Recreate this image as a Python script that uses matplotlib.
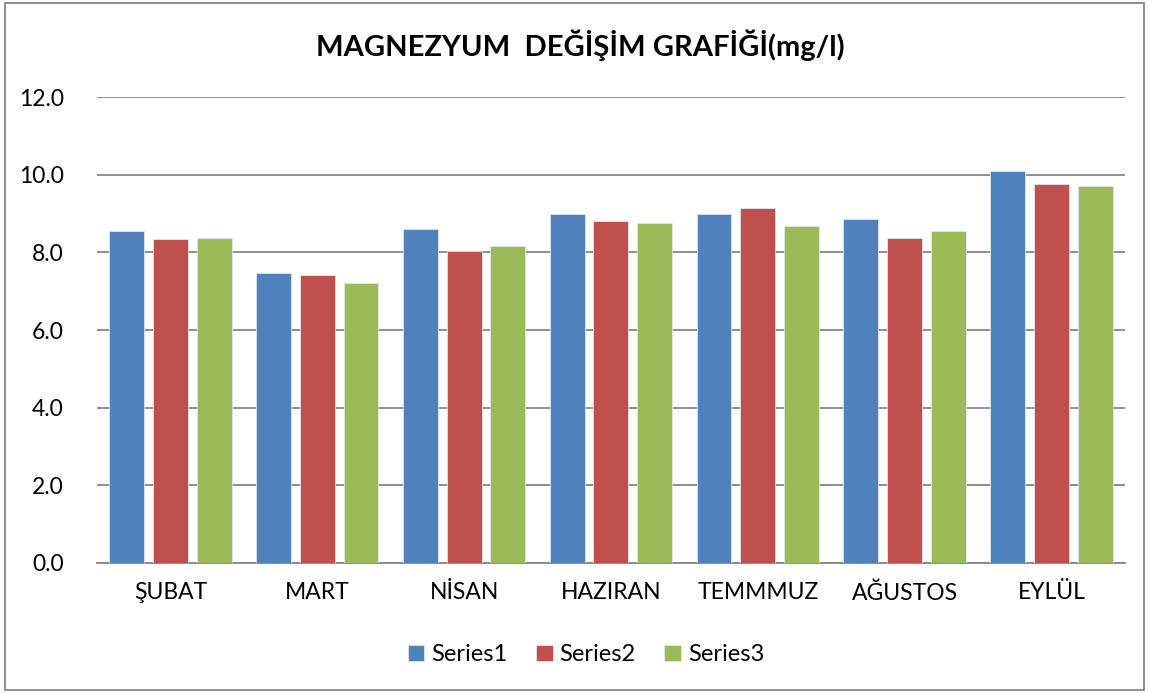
import matplotlib.pyplot as plt
import numpy as np
from matplotlib.patches import Rectangle

months = ["ŞUBAT", "MART", "NİSAN", "HAZIRAN", "TEMMMUZ", "AĞUSTOS", "EYLÜL"]
series1 = [8.54, 7.47, 8.60, 8.98, 8.99, 8.85, 10.09]
series2 = [8.34, 7.42, 8.03, 8.81, 9.14, 8.36, 9.76]
series3 = [8.37, 7.21, 8.16, 8.75, 8.68, 8.56, 9.71]
series_names = ["Series1", "Series2", "Series3"]
colors = ["#4F81BD", "#C0504D", "#9BBB59"]
yticks = [0, 2, 4, 6, 8, 10, 12]

plt.rcParams["font.family"] = ["Lato", "DejaVu Sans"]

fig = plt.figure(figsize=(11.49, 6.93), dpi=100)
ax = fig.add_axes([0.0844, 0.1876, 0.8946, 0.6724])

x = np.arange(len(months))
width = 0.238
step = 0.298
for i, (vals, name, col) in enumerate(zip([series1, series2, series3], series_names, colors)):
    ax.bar(x + (i - 1) * step, vals, width, color=col, label=name,
           edgecolor="#dfe6ef", linewidth=0.6, zorder=3)

ax.set_xlim(-0.5, len(months) - 0.5)
ax.set_ylim(0, 12)
ax.set_yticks(yticks)
ax.set_yticklabels([f"{v:.1f}" for v in yticks], fontsize=16.5)
ax.set_xticks(x)
ax.set_xticklabels(months, fontsize=16.5)
ax.tick_params(axis="x", length=0, pad=14)
ax.tick_params(axis="y", length=0, pad=24)
ax.yaxis.grid(True, color="#868686", linewidth=1.3, zorder=0)
for s in ["left", "right", "top"]:
    ax.spines[s].set_visible(False)
ax.spines["bottom"].set_color("#868686")
ax.spines["bottom"].set_linewidth(1.3)

fig.text(0.505, 0.935, "MAGNEZYUM  DEĞİŞİM GRAFİĞİ(mg/l)", ha="center", va="center",
         fontsize=21, fontweight="bold")

fig.legend(loc="center", bbox_to_anchor=(0.51, 0.055), ncol=3, frameon=False,
           fontsize=17, handlelength=0.7, handleheight=0.7, handletextpad=0.3,
           columnspacing=1.2)

fig.patches.append(Rectangle((0.004, 0.004), 0.992, 0.992, transform=fig.transFigure,
                             fill=False, edgecolor="#868686", linewidth=1.3))

fig.savefig("out.png", dpi=100)
